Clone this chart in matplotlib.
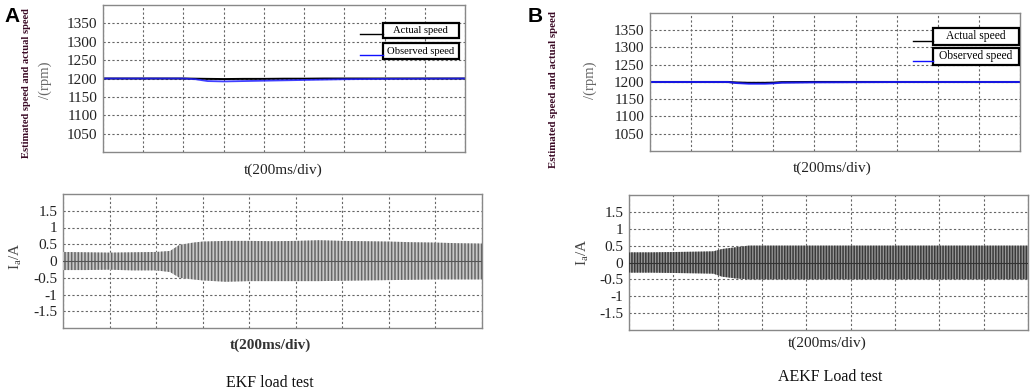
import numpy as np
import matplotlib
matplotlib.use('Agg')
import matplotlib.pyplot as plt
from matplotlib.patches import Rectangle
from matplotlib.lines import Line2D

# ---- data (x in divisions of 200 ms) ----
# speed traces
t_spd_a = [0, 1, 2, 2.3, 2.6, 3, 3.5, 4, 4.5, 5, 5.5, 6, 7, 8, 9]
actual_a = [1200, 1200, 1200, 1199.5, 1199, 1198.5, 1199, 1199, 1199.5, 1199.5, 1200, 1200, 1200, 1200, 1200]
observed_a = [1200, 1200, 1200, 1198, 1193, 1192, 1193, 1194, 1195, 1196, 1197, 1198, 1199, 1199.5, 1200]

t_spd_b = [0, 1, 1.9, 2.1, 2.4, 2.8, 3.0, 3.2, 4, 5, 6, 7, 8, 9]
actual_b = [1200, 1200, 1200, 1198.5, 1197.5, 1197.5, 1198, 1199.5, 1200, 1200, 1200, 1200, 1200, 1200]
observed_b = [1200, 1200, 1200, 1197, 1195, 1195, 1196, 1198, 1199, 1199.5, 1200, 1200, 1200, 1200]

# current envelopes
t_cur_a = [0, 0.5, 1, 1.5, 2, 2.3, 2.5, 2.8, 3, 3.5, 4, 4.5, 5, 5.5, 6, 6.5, 7, 7.5, 8, 8.5, 9]
upper_a = [0.27, 0.26, 0.25, 0.26, 0.27, 0.3, 0.48, 0.55, 0.58, 0.6, 0.6, 0.59, 0.6, 0.62, 0.6, 0.59, 0.58, 0.56, 0.55, 0.53, 0.52]
lower_a = [-0.27, -0.27, -0.26, -0.28, -0.28, -0.33, -0.5, -0.55, -0.58, -0.62, -0.6, -0.6, -0.6, -0.6, -0.59, -0.58, -0.57, -0.56, -0.55, -0.55, -0.55]

t_cur_b = [0, 0.5, 1, 1.5, 1.9, 2.1, 2.4, 2.7, 3, 4, 5, 6, 7, 8, 9]
upper_b = [0.3, 0.3, 0.31, 0.32, 0.33, 0.4, 0.45, 0.5, 0.5, 0.5, 0.5, 0.5, 0.5, 0.5, 0.5]
lower_b = [-0.3, -0.3, -0.31, -0.32, -0.33, -0.42, -0.47, -0.5, -0.5, -0.5, -0.5, -0.5, -0.5, -0.5, -0.5]

spd_ticks = [1050, 1100, 1150, 1200, 1250, 1300, 1350]
cur_ticks = [-1.5, -1, -0.5, 0, 0.5, 1, 1.5]
cur_ticklabels = ['-1.5', '-1', '-0.5', '0', '0.5', '1', '1.5']

W, H = 1031, 391
plt.rcParams['font.family'] = ['Liberation Serif', 'DejaVu Serif']
plt.rcParams['mathtext.fontset'] = 'custom'
plt.rcParams['mathtext.rm'] = 'Liberation Serif'
plt.rcParams['hatch.linewidth'] = 1.1
fig = plt.figure(figsize=(W / 100, H / 100), dpi=100)


def box(l, t, r, b):
    return [l / W, 1 - b / H, (r - l) / W, (b - t) / H]


def style(ax, ticks, labels, ylim):
    ax.set_xlim(0, 9)
    ax.set_ylim(*ylim)
    ax.set_xticks(np.arange(0, 10))
    ax.set_xticklabels([])
    ax.set_yticks(ticks)
    ax.set_yticklabels(labels, fontsize=11, color='#222')
    ax.tick_params(length=0, pad=4)
    ax.grid(True, linestyle=(0, (2, 2)), color='#666', linewidth=0.8)
    for s in ax.spines.values():
        s.set_color('#888')
        s.set_linewidth(1.0)


def legend(ax, x0, x1, ya, yo, h, lx, fs):
    for y, txt, col in [(ya, 'Actual speed', 'black'), (yo, 'Observed speed', '#1010ff')]:
        ax.add_patch(Rectangle((x0, y - h / 2), x1 - x0, h, transform=ax.transAxes,
                               facecolor='white', edgecolor='black', linewidth=1.6, zorder=5))
        ax.text((x0 + x1) / 2, y, txt, transform=ax.transAxes, ha='center', va='center',
                fontsize=fs, zorder=6)
        ax.add_line(Line2D([lx, x0], [y - h * 0.25, y - h * 0.25], transform=ax.transAxes,
                           color=col, linewidth=1.0, zorder=5))


# ---------- A ----------
ax1 = fig.add_axes(box(103, 5, 465, 152))
style(ax1, spd_ticks, [str(v) for v in spd_ticks], (1000, 1400))
ax1.plot(t_spd_a, actual_a, color='black', linewidth=1.4)
ax1.plot(t_spd_a, observed_a, color='#2020ff', linewidth=1.3, alpha=0.85)
legend(ax1, 0.773, 0.983, 0.827, 0.687, 0.105, 0.71, 7.7)

ax2 = fig.add_axes(box(63, 194, 482, 328))
style(ax2, cur_ticks, cur_ticklabels, (-2, 2))
ax2.fill_between(t_cur_a, lower_a, upper_a, facecolor='#c8c8c8', edgecolor='#666',
                 hatch='|||||', linewidth=0, zorder=3)
ax2.axhline(0, color='#555', linewidth=0.8, zorder=4)

# ---------- B ----------
ax3 = fig.add_axes(box(650, 13, 1020, 151))
style(ax3, spd_ticks, [str(v) for v in spd_ticks], (1000, 1400))
ax3.plot(t_spd_b, actual_b, color='black', linewidth=1.5)
ax3.plot(t_spd_b, observed_b, color='#1a1aff', linewidth=1.4, alpha=0.9)
legend(ax3, 0.765, 0.997, 0.83, 0.685, 0.123, 0.711, 8.3)

ax4 = fig.add_axes(box(629, 195, 1028, 330))
style(ax4, cur_ticks, cur_ticklabels, (-2, 2))
ax4.fill_between(t_cur_b, lower_b, upper_b, facecolor='#9a9a9a', edgecolor='#3a3a3a',
                 hatch='||||||', linewidth=0, zorder=3)
ax4.axhline(0, color='#333', linewidth=0.8, zorder=4)

# ---------- texts ----------
def ftxt(x, y, s, **kw):
    fig.text(x / W, 1 - y / H, s, **kw)

ftxt(12, 16, 'A', fontsize=15, fontweight='bold', family='Liberation Sans', ha='center', va='center')
ftxt(535, 16, 'B', fontsize=15, fontweight='bold', family='Liberation Sans', ha='center', va='center')

ftxt(27, 83, 'Estimated speed and actual speed', rotation=90, fontsize=7.6, fontweight='bold',
     color='#3a0a25', ha='center', va='center')
ftxt(45, 80, '/(rpm)', rotation=90, fontsize=10.5, color='#666', ha='center', va='center')
ftxt(553, 90, 'Estimated speed and actual speed', rotation=90, fontsize=7.8, fontweight='bold',
     color='#3a0a25', ha='center', va='center')
ftxt(590, 80, '/(rpm)', rotation=90, fontsize=10.5, color='#666', ha='center', va='center')

ftxt(16, 256, r'I$_{\rm a}$/A', rotation=90, fontsize=11, color='#444', ha='center', va='center')
ftxt(583, 252, r'I$_{\rm a}$/A', rotation=90, fontsize=11, color='#444', ha='center', va='center')

ftxt(283, 170, 't(200ms/div)', fontsize=11, color='#222', ha='center', va='center')
ftxt(832, 168, 't(200ms/div)', fontsize=11, color='#222', ha='center', va='center')
ftxt(270, 345, 't(200ms/div)', fontsize=11, fontweight='bold', color='#333', ha='center', va='center')
ftxt(827, 343, 't(200ms/div)', fontsize=11, color='#222', ha='center', va='center')

ftxt(270, 383, 'EKF load test', fontsize=11.5, color='#111', ha='center', va='center')
ftxt(830, 377, 'AEKF Load test', fontsize=11.5, color='#111', ha='center', va='center')

fig.savefig('out.png', dpi=100)
